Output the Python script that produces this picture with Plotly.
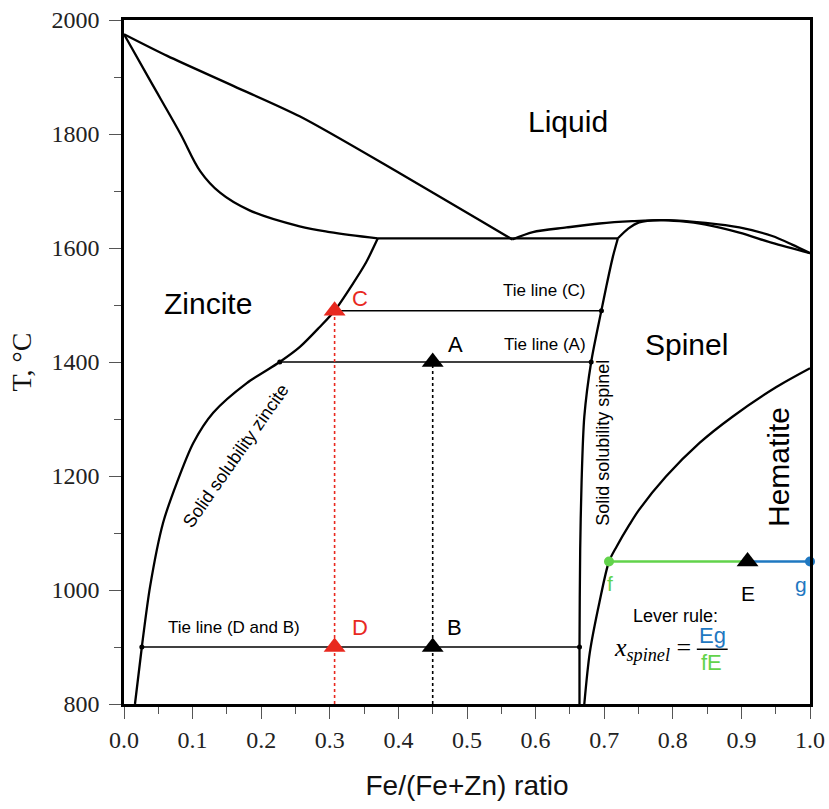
import plotly.graph_objects as go

# ---- phase boundaries of the ZnO-Fe2O3 system (x = Fe/(Fe+Zn), T in degC) ----
liq_zincite_x = [0.0, 0.063, 0.160, 0.256, 0.402, 0.518, 0.566]
liq_zincite_T = [1975, 1937, 1884, 1831, 1731, 1649, 1615]

sol_zincite_x = [0.0, 0.038, 0.082, 0.111, 0.140, 0.183, 0.256, 0.300, 0.370]
sol_zincite_T = [1975, 1894, 1801, 1735, 1697, 1666, 1638, 1628, 1617]

eutectic_x = [0.370, 0.720]
eutectic_T = [1617, 1617]

liq_spinel_x = [0.566, 0.596, 0.645, 0.693, 0.741, 0.790, 0.848, 0.897, 0.945, 0.974, 1.0]
liq_spinel_T = [1615, 1628, 1636, 1643, 1647, 1649, 1644, 1636, 1621, 1606, 1591]

sol_spinel_x = [0.720, 0.735, 0.751, 0.781, 0.810, 0.848, 0.897, 0.945, 1.0]
sol_spinel_T = [1617, 1634, 1645, 1649, 1647, 1641, 1627, 1609, 1591]

solvus_zincite_x = [0.370, 0.353, 0.334, 0.307, 0.285, 0.256, 0.227, 0.179, 0.130, 0.101, 0.077, 0.057, 0.038, 0.026, 0.016]
solvus_zincite_T = [1617, 1575, 1538, 1490, 1461, 1426, 1400, 1363, 1311, 1258, 1188, 1118, 1006, 900, 800]

solvus_spinel_x = [0.720, 0.7125, 0.703, 0.696, 0.681, 0.671, 0.667, 0.665, 0.664, 0.664]
solvus_spinel_T = [1617, 1584, 1532, 1491, 1400, 1304, 1188, 1071, 900, 800]

hematite_x = [0.671, 0.679, 0.693, 0.707, 0.718, 0.737, 0.751, 0.790, 0.839, 0.887, 0.951, 1.0]
hematite_T = [800, 890, 978, 1050, 1076, 1115, 1141, 1199, 1258, 1304, 1356, 1389]

# ---- tie lines ----
tie_DB_x = [0.026, 0.664]
tie_DB_T = [900, 900]
tie_A_x = [0.227, 0.681]
tie_A_T = [1400, 1400]
tie_C_x = [0.307, 0.696]
tie_C_T = [1490, 1490]

# ---- lever rule at 1050 degC ----
lever_f_x = 0.707
lever_E_x = 0.909
lever_g_x = 1.0
lever_T = 1050

# ---- state points ----
red_pts_x = [0.307, 0.307]
red_pts_T = [1490, 900]
black_pts_x = [0.45, 0.45, lever_E_x]
black_pts_T = [1400, 900, lever_T]

x_tick_vals = [0.0, 0.1, 0.2, 0.3, 0.4, 0.5, 0.6, 0.7, 0.8, 0.9, 1.0]
x_tick_text = ["0.0", "0.1", "0.2", "0.3", "0.4", "0.5", "0.6", "0.7", "0.8", "0.9", "1.0"]
y_tick_vals = [800, 1000, 1200, 1400, 1600, 1800, 2000]

RED = "#e8291f"
GREEN = "#62d34b"
BLUE = "#1f78c1"
SANS = "Liberation Sans, Arial, sans-serif"
SERIF = "Liberation Serif, Times New Roman, serif"

fig = go.Figure()

def curve(x, y, width=2.3, smooth=True, smoothing=0.8):
    fig.add_trace(go.Scatter(
        x=x, y=y, mode="lines",
        line=dict(color="black", width=width,
                  shape="spline" if smooth else "linear", smoothing=smoothing),
        hoverinfo="skip", showlegend=False))

curve(liq_zincite_x, liq_zincite_T)
curve(sol_zincite_x, sol_zincite_T, smoothing=1.0)
curve(eutectic_x, eutectic_T, smooth=False)
curve(liq_spinel_x, liq_spinel_T)
curve(sol_spinel_x, sol_spinel_T)
curve(solvus_zincite_x, solvus_zincite_T)
curve(solvus_spinel_x, solvus_spinel_T)
curve(hematite_x, hematite_T)

# tie lines with small end dots
for tx, tT in [(tie_DB_x, tie_DB_T), (tie_A_x, tie_A_T), (tie_C_x, tie_C_T)]:
    fig.add_trace(go.Scatter(
        x=tx, y=tT, mode="lines+markers",
        line=dict(color="black", width=1.5),
        marker=dict(color="black", size=5),
        hoverinfo="skip", showlegend=False))

# dotted verticals from the bottom axis up to each state point
fig.add_trace(go.Scatter(
    x=[red_pts_x[0], red_pts_x[0]], y=[800, red_pts_T[0]], mode="lines",
    line=dict(color=RED, width=1.6, dash="dot"), hoverinfo="skip", showlegend=False))
fig.add_trace(go.Scatter(
    x=[black_pts_x[0], black_pts_x[0]], y=[800, black_pts_T[0]], mode="lines",
    line=dict(color="black", width=1.6, dash="dot"), hoverinfo="skip", showlegend=False))

# lever segments
fig.add_trace(go.Scatter(
    x=[lever_f_x, lever_E_x], y=[lever_T, lever_T], mode="lines",
    line=dict(color=GREEN, width=2.5), hoverinfo="skip", showlegend=False))
fig.add_trace(go.Scatter(
    x=[lever_E_x, lever_g_x], y=[lever_T, lever_T], mode="lines",
    line=dict(color=BLUE, width=2.5), hoverinfo="skip", showlegend=False))
fig.add_trace(go.Scatter(
    x=[lever_f_x], y=[lever_T], mode="markers", cliponaxis=False,
    marker=dict(color=GREEN, size=10), hoverinfo="skip", showlegend=False))
fig.add_trace(go.Scatter(
    x=[lever_g_x], y=[lever_T], mode="markers", cliponaxis=False,
    marker=dict(color=BLUE, size=10), hoverinfo="skip", showlegend=False))

# state point triangles
fig.add_trace(go.Scatter(
    x=red_pts_x, y=red_pts_T, mode="markers",
    marker=dict(symbol="triangle-up", color=RED, size=19), hoverinfo="skip", showlegend=False))
fig.add_trace(go.Scatter(
    x=black_pts_x, y=black_pts_T, mode="markers",
    marker=dict(symbol="triangle-up", color="black", size=19), hoverinfo="skip", showlegend=False))

def label(x, y, text, size, color="black", font=SANS, angle=0, xanchor="center"):
    fig.add_annotation(x=x, y=y, text=text, showarrow=False, textangle=angle,
                       xanchor=xanchor, yanchor="middle",
                       font=dict(family=font, size=size, color=color))

# phase fields
label(0.647, 1822, "Liquid", 30)
label(0.123, 1502, "Zincite", 30)
label(0.820, 1430, "Spinel", 30)
label(0.955, 1216, "Hematite", 30, angle=-90)
label(0.163, 1235, "Solid solubility zincite", 18, angle=-55)
label(0.698, 1258, "Solid solubility spinel", 18, angle=-90)

# tie line captions
label(0.613, 1526, "Tie line (C)", 17)
label(0.613, 1431, "Tie line (A)", 17)
label(0.160, 934, "Tie line (D and B)", 17)

# point letters
label(0.344, 1512, "C", 22, color=RED)
label(0.344, 934, "D", 22, color=RED)
label(0.483, 1431, "A", 22)
label(0.482, 934, "B", 22)
label(0.708, 1012, "f", 21, color=GREEN)
label(0.909, 993, "E", 21)
label(0.987, 1010, "g", 21, color=BLUE)

# lever rule formula
label(0.804, 955, "Lever rule:", 18)
label(0.829, 896, "<i>x</i><sub><i>spinel</i></sub> =", 26, font=SERIF, xanchor="right")
label(0.858, 921, "Eg", 22, color=BLUE)
label(0.857, 873, "fE", 22, color=GREEN)
fig.add_shape(type="line", x0=0.835, x1=0.880, y0=896, y1=896,
              line=dict(color="black", width=1.5))

axis_common = dict(
    showline=True, mirror=True, linecolor="black", linewidth=2.5,
    ticks="outside", ticklen=12, tickwidth=1.2, tickcolor="#555",
    showgrid=False, zeroline=False, automargin=False,
    tickfont=dict(family=SERIF, size=24, color="#222"),
)

fig.update_xaxes(
    range=[0, 1], tickvals=x_tick_vals, ticktext=x_tick_text,
    minor=dict(ticks="outside", ticklen=7, dtick=0.05, tickwidth=1.2, tickcolor="#555"),
    title=dict(text="Fe/(Fe+Zn) ratio", font=dict(family=SANS, size=28, color="#111"), standoff=24),
    **axis_common)
fig.update_yaxes(
    range=[800, 2000], tickvals=y_tick_vals, ticklabelstandoff=5,
    minor=dict(ticks="outside", ticklen=7, dtick=100, tickwidth=1.2, tickcolor="#555"),
    title=dict(text="T, °C", font=dict(family=SERIF, size=28, color="#111"), standoff=12),
    **axis_common)

fig.update_layout(
    width=829, height=809,
    margin=dict(l=124, r=19, t=20, b=105),
    plot_bgcolor="white", paper_bgcolor="white",
)

fig.write_html("out.html")
